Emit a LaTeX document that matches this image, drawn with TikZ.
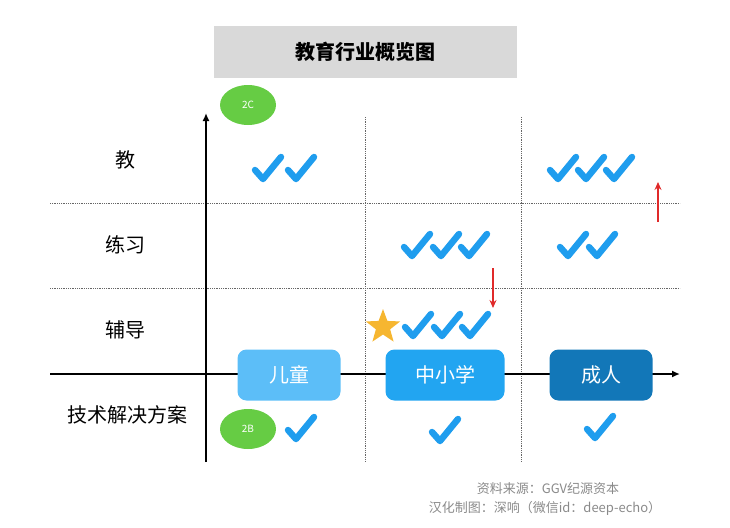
\documentclass[tikz,border=0pt]{standalone}
\usepackage{fontspec}
\setmainfont{Noto Sans CJK SC}
\usetikzlibrary{shapes.geometric,arrows.meta}

\definecolor{titlegray}{HTML}{D9D9D9}
\definecolor{taggreen}{HTML}{66CC44}
\definecolor{tickblue}{HTML}{1F9DEE}
\definecolor{kidblue}{HTML}{5CBEF8}
\definecolor{midblue}{HTML}{22A5F1}
\definecolor{adultblue}{HTML}{1277B8}
\definecolor{stargold}{HTML}{F6B630}
\definecolor{arrowred}{HTML}{E02A2A}
\definecolor{notegray}{HTML}{8A8A8A}

\tikzset{
  grid/.style={densely dotted, black!60, line width=0.8pt},
  axis/.style={line width=1.6pt, -{Latex[length=8pt,width=7pt]}},
  rowlabel/.style={font=\fontsize{20}{24}\selectfont},
  stage/.style={rounded corners=9pt, minimum width=103pt, minimum height=51pt,
    text=white, font=\fontsize{20}{24}\selectfont},
  tag/.style={ellipse, fill=taggreen, minimum width=56pt, minimum height=40pt,
    inner sep=0pt, text=white, font=\fontsize{10}{12}\selectfont},
  tick/.style={draw=tickblue, line width=6.5pt, line cap=round, line join=round},
  note/.style={text=notegray, font=\fontsize{13}{15}\selectfont},
  pics/check/.style={code={\draw[tick] (-13,2) -- (-5,11) -- (13,-11);}},
}

\begin{document}
\begin{tikzpicture}[x=1pt,y=-1pt]
\useasboundingbox (0,0) rectangle (730,527);

% ===== title =====
\node[fill=titlegray, minimum width=303pt, minimum height=51pt,
  font=\fontsize{20}{24}\selectfont\bfseries] (title) at (365,52) {教育行业概览图};

% ===== grid =====
\draw[grid] (50,203) -- (680,203);
\draw[grid] (50,288) -- (680,288);
\draw[grid] (365,117) -- (365,462);
\draw[grid] (521,117) -- (521,462);

% ===== axes =====
\coordinate (yaxbot) at (206,462);
\coordinate (yaxtop) at (206,113);
\coordinate (xaxleft) at (50,374);
\coordinate (xaxright) at (680,374);
\draw[axis] (yaxbot) -- (yaxtop);
\draw[axis] (xaxleft) -- (xaxright);

% ===== row labels =====
\node[rowlabel] (teach) at (125,160) {教};
\node[rowlabel] (practice) at (125,245) {练习};
\node[rowlabel] (tutor) at (125,330) {辅导};
\node[rowlabel] (tech) at (127,415) {技术解决方案};

% ===== stages =====
\node[stage, fill=kidblue] (kid) at (289,375) {儿童};
\node[stage, fill=midblue, minimum width=119pt] (school) at (445,375) {中小学};
\node[stage, fill=adultblue] (adult) at (601,375) {成人};

% ===== 2C / 2B =====
\node[tag] (toc) at (248,105) {2C};
\node[tag] (tob) at (248,429) {2B};

% ===== checks =====
\foreach \x in {268,301} \path (\x,168) pic {check};
\foreach \x in {563,591,619} \path (\x,168) pic {check};
\foreach \x in {417,446,474} \path (\x,245) pic {check};
\foreach \x in {573,602} \path (\x,245) pic {check};
\foreach \x in {418,447,475} \path (\x,325) pic {check};
\path (301,428) pic {check};
\path (445,430) pic {check};
\path (600,427) pic {check};

% ===== star =====
\node[star, star points=5, star point ratio=2.4, fill=stargold, minimum size=36pt,
  inner sep=0pt] (best) at (383,327) {};

% ===== trends =====
\coordinate (downtop) at (493,268);
\coordinate (downbot) at (493,308);
\coordinate (upbot) at (658,222);
\coordinate (uptop) at (658,182);
\draw[arrowred, line width=1.3pt, -{Stealth[length=8pt,width=7pt]}] (downtop) -- (downbot);
\draw[arrowred, line width=1.3pt, -{Stealth[length=8pt,width=7pt]}] (upbot) -- (uptop);

% ===== notes =====
\node[note] (source) at (548,489) {资料来源：GGV纪源资本};
\node[note] (credit) at (545,508) {汉化制图：深响（微信id：deep-echo）};

\end{tikzpicture}
\end{document}
